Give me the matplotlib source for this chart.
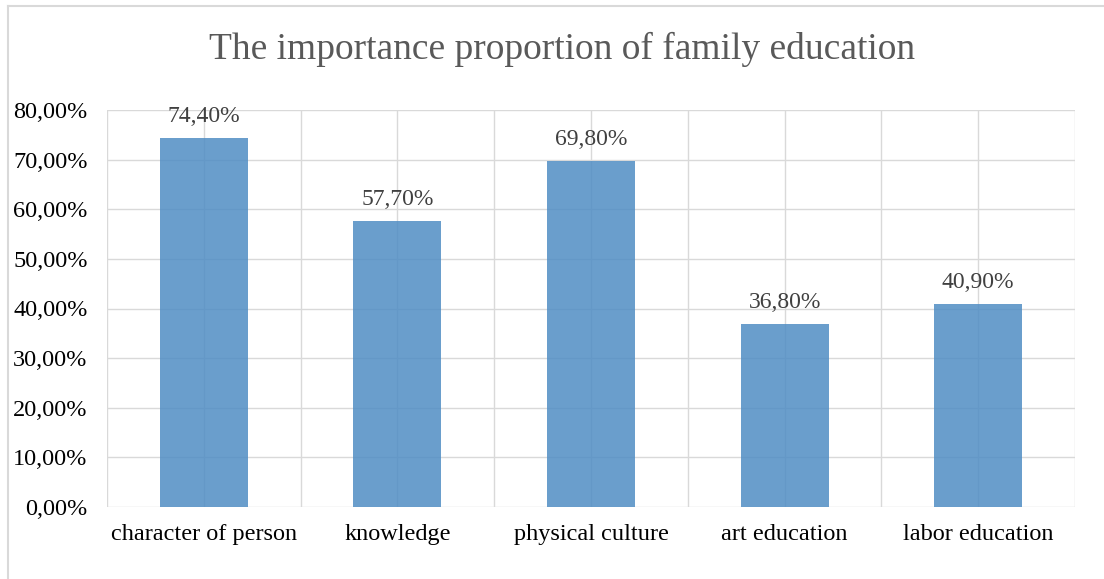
import matplotlib.pyplot as plt
from matplotlib.lines import Line2D

categories = ["character of person", "knowledge", "physical culture", "art education", "labor education"]
values = [74.4, 57.7, 69.8, 36.8, 40.9]
yticks = [0, 10, 20, 30, 40, 50, 60, 70, 80]

plt.rcParams['font.family'] = ['Liberation Serif', 'DejaVu Serif']

fig = plt.figure(figsize=(11.04, 5.79), dpi=100)
ax = fig.add_axes([107/1104, 1-507/579, (1075-107)/1104, (507-110)/579])

x = list(range(len(categories)))
bars = ax.bar(x, values, width=1/2.2, color='#508dc4', alpha=0.85, zorder=3)

# gridlines: horizontal at ticks, vertical at every half category
for v in yticks:
    ax.axhline(v, color='#d9d9d9', lw=1.0, zorder=1)
for i in range(2*len(categories)+1):
    ax.axvline(-0.5 + i*0.5, color='#d9d9d9', lw=1.0, zorder=1)

ax.set_xlim(-0.5, len(categories)-0.5)
ax.set_ylim(0, 80)
ax.set_yticks(yticks)
ax.set_yticklabels([f"{v:.2f}".replace('.', ',') + "%" for v in yticks], fontsize=17.5)
ax.set_xticks(x)
ax.set_xticklabels(categories, fontsize=17.5)
ax.tick_params(axis='both', length=0, colors='black')
ax.tick_params(axis='y', pad=14)
ax.tick_params(axis='x', pad=12)
for s in ax.spines.values():
    s.set_visible(False)

for xi, v in zip(x, values):
    ax.annotate(f"{v:.2f}".replace('.', ',') + "%", (xi, v), xytext=(0, 8),
                textcoords='offset points', ha='center', va='bottom',
                fontsize=17, color='#404040')

fig.text(0.509, 1-49/579, "The importance proportion of family education",
         ha='center', va='center', fontsize=27, color='#595959')

# outer chart frame (top and left edges visible)
fig.add_artist(Line2D([8/1104, 1], [1-5.5/579, 1-5.5/579], color='#d9d9d9', lw=1.5))
fig.add_artist(Line2D([8/1104, 8/1104], [0, 1-5.5/579], color='#d9d9d9', lw=1.5))

fig.savefig("out.png", dpi=100)
